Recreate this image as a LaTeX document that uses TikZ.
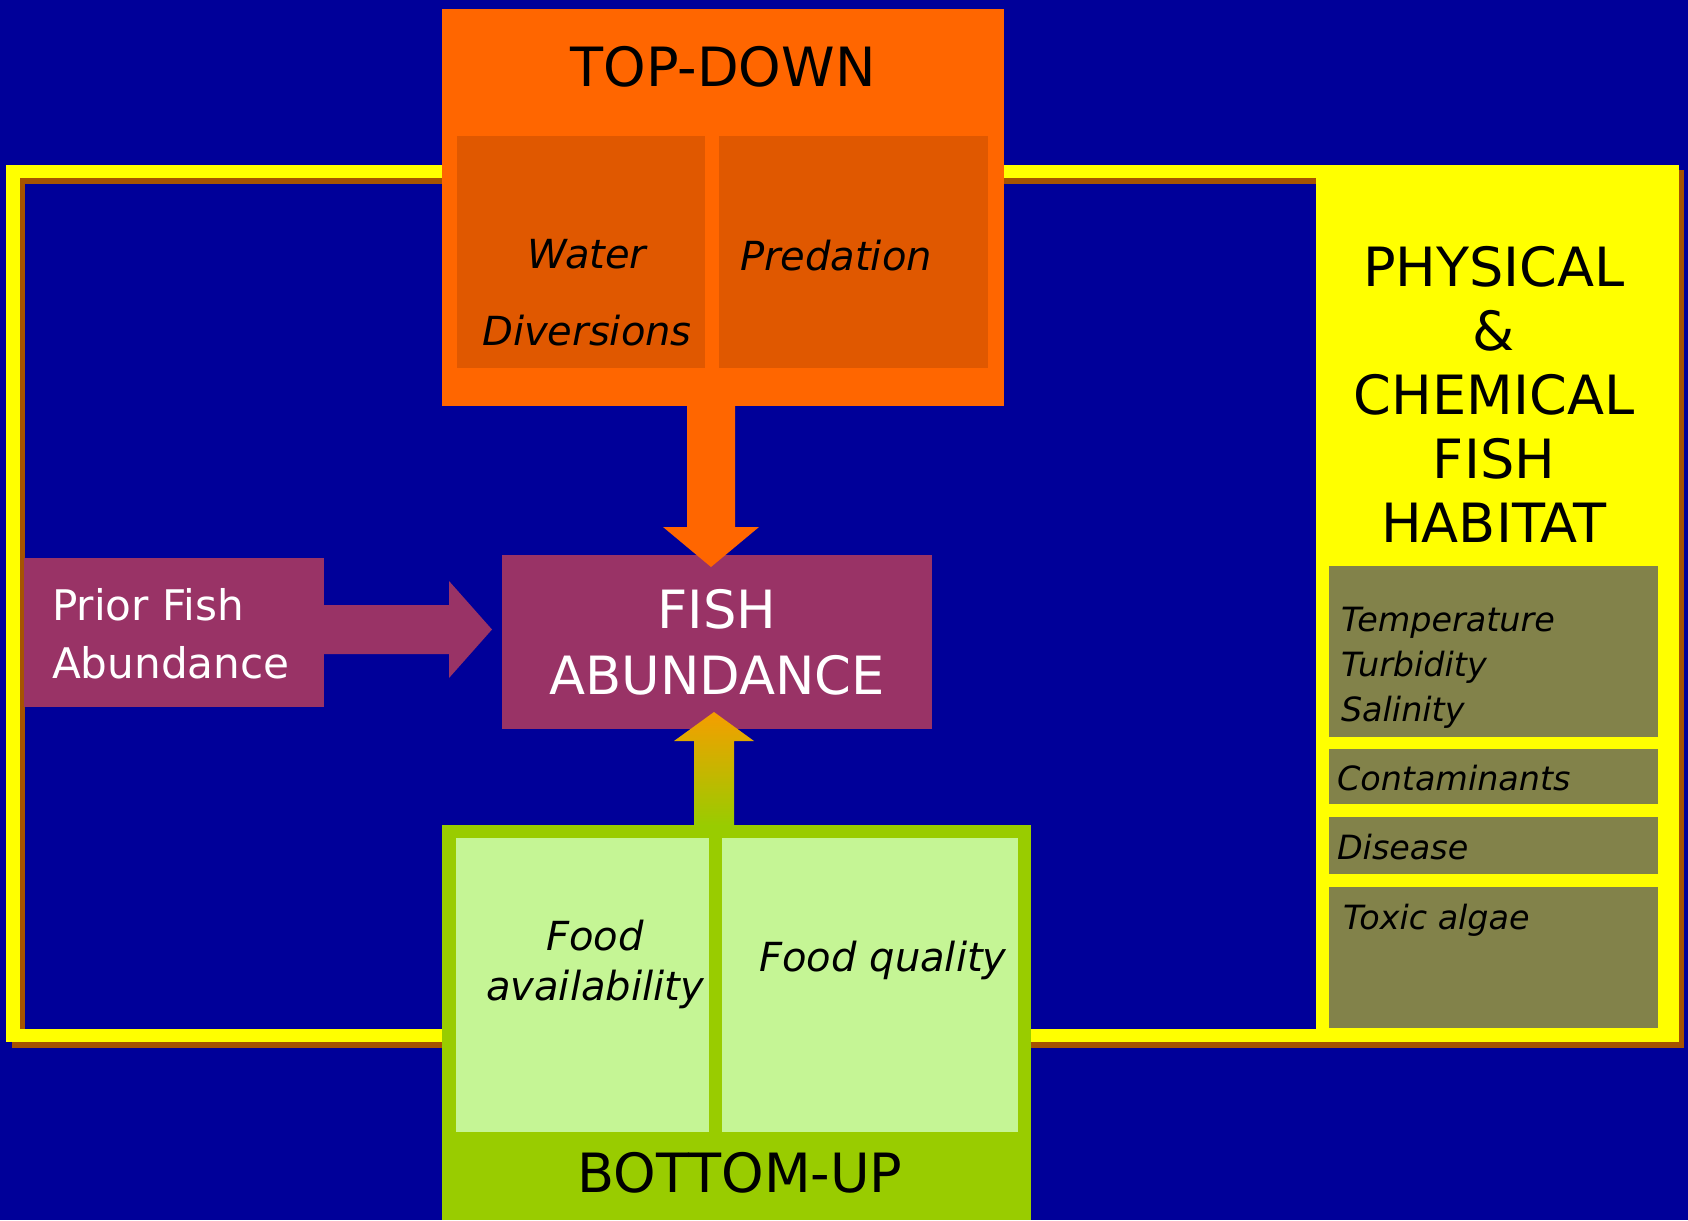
\documentclass[tikz,border=0pt]{standalone}
\usepackage{fontspec}
\setmainfont{DejaVu Sans}
\usetikzlibrary{calc}
\definecolor{bgblue}{RGB}{0,0,153}
\definecolor{loopyellow}{RGB}{255,255,0}
\definecolor{shadowbrown}{RGB}{166,83,0}
\definecolor{tdorange}{RGB}{255,102,0}
\definecolor{tddark}{RGB}{224,88,0}
\definecolor{fishpurple}{RGB}{153,51,102}
\definecolor{bugreen}{RGB}{153,204,0}
\definecolor{bulight}{RGB}{197,245,149}
\definecolor{habolive}{RGB}{130,130,74}
\definecolor{arrowgold}{RGB}{245,158,0}

\tikzset{
  box/.style={anchor=north west,inner sep=0pt,outer sep=0pt},
  lbl/.style={inner sep=0pt,outer sep=0pt},
  bigtxt/.style={lbl,font=\fontsize{15.4}{18.2}\selectfont},
  fishtxt/.style={lbl,text=white,font=\fontsize{15}{18.8}\selectfont},
  priortxt/.style={lbl,text=white,font=\fontsize{12}{16.5}\selectfont},
  factortxt/.style={lbl,font=\itshape\fontsize{11.4}{14.2}\selectfont},
  habtxt/.style={lbl,anchor=west,align=left,font=\itshape\fontsize{9.5}{12.8}\selectfont}
}

\begin{document}
\begin{tikzpicture}[x=0.1mm,y=-0.1mm]
\useasboundingbox (0,0) rectangle (1688,1220);
\fill[bgblue] (0,0) rectangle (1688,1220);

% yellow loop with its shadow
\draw[shadowbrown,line width=1.35mm] (18.5,177) rectangle (1600,1041);
\draw[loopyellow,line width=1.35mm] (13,171.5) rectangle (1600,1035.5);

% physical & chemical habitat
\fill[shadowbrown] (1321,170) rectangle (1684,1048);
\node[box,fill=loopyellow,minimum width=36.3mm,minimum height=87.7mm] (hab) at (1316,165) {};
\node[bigtxt,align=center] (habtitle) at (1494,394) {PHYSICAL\\\&\\CHEMICAL\\FISH\\HABITAT};
\node[box,fill=habolive,minimum width=32.9mm,minimum height=17.1mm] (ttsbox) at (1329,566) {};
\node[box,fill=habolive,minimum width=32.9mm,minimum height=5.5mm] (contbox) at (1329,749) {};
\node[box,fill=habolive,minimum width=32.9mm,minimum height=5.7mm] (disbox) at (1329,817) {};
\node[box,fill=habolive,minimum width=32.9mm,minimum height=14.1mm] (toxbox) at (1329,887) {};
\node[habtxt] (tts) at (1341,668) {Temperature\\Turbidity\\Salinity};
\node[habtxt] (cont) at (1337,778) {Contaminants};
\node[habtxt] (dis) at (1337,847) {Disease};
\node[habtxt] (tox) at (1343,920) {Toxic algae};

% top-down
\node[box,fill=tdorange,minimum width=56.2mm,minimum height=39.7mm] (td) at (442,9) {};
\node[box,fill=tddark,minimum width=24.8mm,minimum height=23.2mm] (waterbox) at (457,136) {};
\node[box,fill=tddark,minimum width=26.9mm,minimum height=23.2mm] (predbox) at (719,136) {};
\node[bigtxt] (tdtitle) at (723,67) {TOP-DOWN};
\node[factortxt,align=center,font=\itshape\fontsize{11.4}{21.9}\selectfont] (water) at (587,293) {Water\\Diversions};
\node[factortxt] (pred) at (836,256) {Predation};

% bottom-up
\node[box,fill=bugreen,minimum width=58.9mm,minimum height=39.5mm] (bu) at (442,825) {};
\node[box,fill=bulight,minimum width=25.3mm,minimum height=29.4mm] (availbox) at (456,838) {};
\node[box,fill=bulight,minimum width=29.6mm,minimum height=29.4mm] (qualbox) at (722,838) {};
\node[factortxt,align=center] (avail) at (595,964) {Food\\availability};
\node[factortxt] (qual) at (883,960) {Food quality};
\node[bigtxt] (butitle) at (740,1173) {BOTTOM-UP};

% fish abundance
\node[box,fill=fishpurple,minimum width=43mm,minimum height=17.4mm] (fishbox) at (502,555) {};
\node[fishtxt,align=center] (fish) at (717,642) {FISH\\ABUNDANCE};
\node[box,fill=fishpurple,minimum width=30mm,minimum height=14.9mm] (priorbox) at (24,558) {};
\node[priortxt,anchor=west,align=left] (prior) at (52,634) {Prior Fish\\Abundance};

% block arrows
\coordinate (tdtip) at ($(fishbox.north)+(-6,12)$);
\fill[tdorange] (tdtip) -- ($(tdtip)+(-48,-40)$) -- ($(tdtip)+(-24,-40)$)
  -- ($(td.south -| tdtip)+(-24,0)$) -- ($(td.south -| tdtip)+(24,0)$)
  -- ($(tdtip)+(24,-40)$) -- ($(tdtip)+(48,-40)$) -- cycle;
\coordinate (butip) at ($(fishbox.south)+(-3,-17)$);
\shade[top color=arrowgold,bottom color=bugreen] (butip) -- ($(butip)+(-40,29)$) -- ($(butip)+(-20,29)$)
  -- ($(bu.north -| butip)+(-20,0)$) -- ($(bu.north -| butip)+(20,0)$)
  -- ($(butip)+(20,29)$) -- ($(butip)+(40,29)$) -- cycle;
\coordinate (pftip) at ($(priorbox.east -| fishbox.west)+(-10,-3)$);
\fill[fishpurple] (pftip) -- ($(pftip)+(-43,-48.5)$) -- ($(pftip)+(-43,-24.5)$)
  -- ($(priorbox.east |- pftip)+(0,-24.5)$) -- ($(priorbox.east |- pftip)+(0,24.5)$)
  -- ($(pftip)+(-43,24.5)$) -- ($(pftip)+(-43,48.5)$) -- cycle;
\end{tikzpicture}
\end{document}
